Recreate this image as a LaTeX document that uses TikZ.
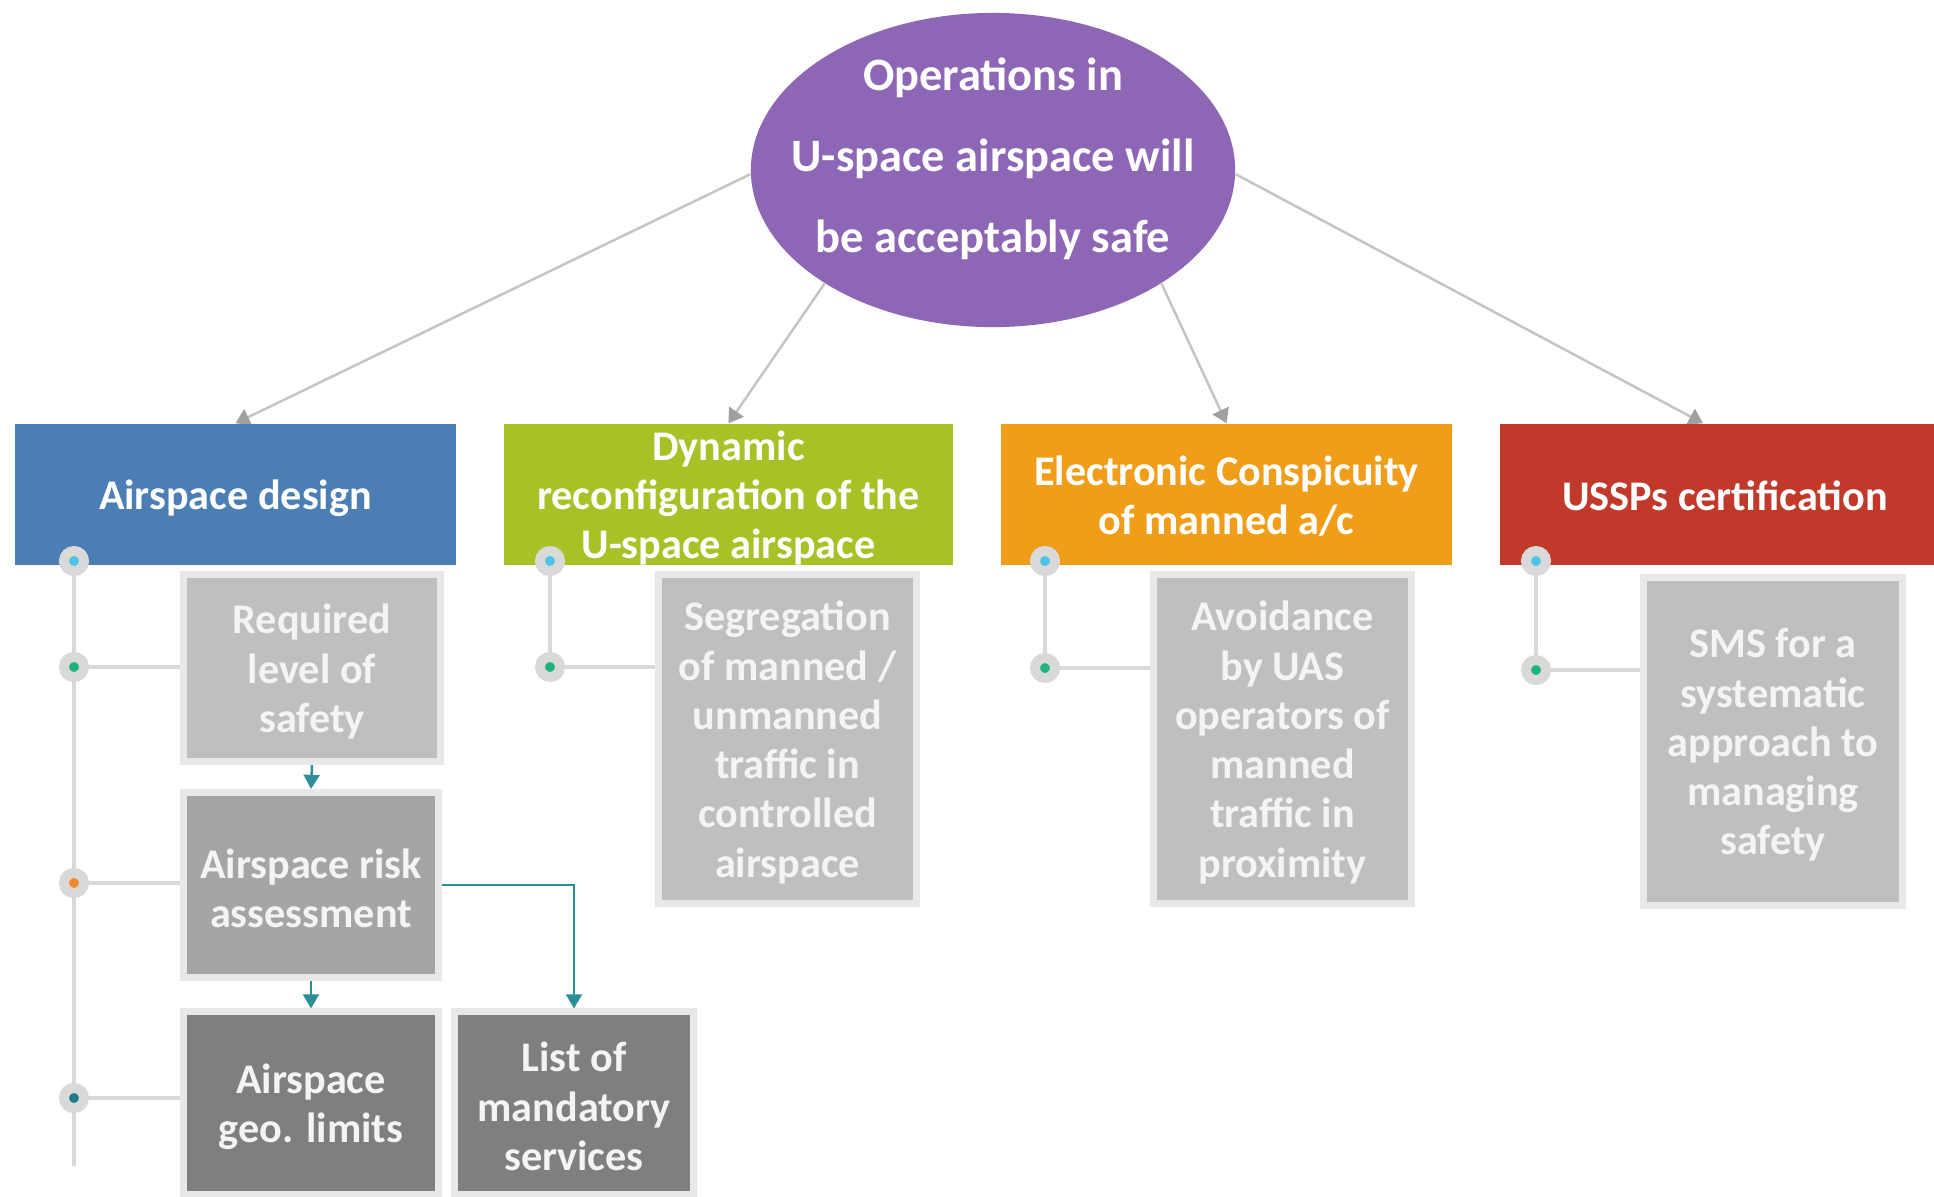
\documentclass[tikz,border=0pt]{standalone}
\usepackage{fontspec}
\setmainfont{Carlito}
\usetikzlibrary{shapes.geometric,arrows.meta,calc}
\definecolor{cblue}{HTML}{4A7EB5}
\definecolor{cgreen}{HTML}{A6C226}
\definecolor{corange}{HTML}{F09E1A}
\definecolor{cred}{HTML}{C0392B}
\definecolor{cpurple}{HTML}{8E66B6}
\definecolor{glight}{HTML}{BFBFBF}
\definecolor{gmid}{HTML}{A5A5A5}
\definecolor{gdark}{HTML}{7F7F7F}
\definecolor{gframe}{HTML}{E8E8E8}
\definecolor{spinec}{HTML}{D9D9D9}
\definecolor{dcyan}{HTML}{4FC3E3}
\definecolor{dgreen}{HTML}{1DB57B}
\definecolor{dorange}{HTML}{F0892A}
\definecolor{dteal}{HTML}{1E7C86}
\definecolor{tealc}{HTML}{2B8E98}
\definecolor{connc}{HTML}{C4C4C4}
\definecolor{tipc}{HTML}{A0A0A0}
\definecolor{txtc}{HTML}{F4F4F4}
\pgfdeclarelayer{background}
\pgfsetlayers{background,main}
\begin{document}
\begin{tikzpicture}[x=0.01cm,y=-0.01cm,
  boxtext/.style={font=\fontsize{12}{14}\selectfont\bfseries, align=center, inner sep=0pt, yshift=-1pt},
  toptxt/.style={boxtext, text=white},
  greytxt/.style={boxtext, text=txtc},
  topbox/.style={fill=#1, draw=none, minimum height=1.41cm, inner sep=0pt},
  greybox/.style={fill=#1, draw=gframe, line width=2pt, inner sep=0pt},
  dot/.style={circle, fill=#1, draw=spinec, line width=0.1cm, minimum size=0.2cm, inner sep=0pt},
  spineline/.style={draw=spinec, line width=1.3pt},
  tealarrow/.style={draw=tealc, line width=0.7pt, -{Triangle[width=4.5pt,length=4pt]}},
  topconn/.style={draw=connc, line width=0.7pt, -{Triangle[width=5pt,length=4pt,color=tipc]}}
]
\useasboundingbox (0,0) rectangle (1934,1196);

% central ellipse
\node[ellipse, fill=cpurple, draw=none, minimum width=4.84cm, minimum height=3.14cm, inner sep=0pt] (ell) at (993,170) {};
\node[text=white, font=\fontsize{13.2}{23}\selectfont\bfseries, align=center, inner sep=0pt] (elltext) at (993,158.5)
  {Operations in\\U-space airspace will\\be acceptably safe};

% top boxes
\node[topbox=cblue, minimum width=4.41cm, label={[toptxt]center:{Airspace design}}] (blue) at (235.5,494.5) {};
\node[topbox=cgreen, minimum width=4.49cm, label={[toptxt]center:{Dynamic\\reconfiguration of the\\U-space airspace}}] (green) at (728.5,494.5) {};
\node[topbox=corange, minimum width=4.51cm, label={[toptxt,yshift=0.6pt]center:{Electronic Conspicuity\\of manned a/c}}] (orange) at (1226.5,494.5) {};
\node[topbox=cred, minimum width=4.50cm, label={[toptxt,yshift=0.6pt]center:{USSPs certification}}] (red) at (1725,494.5) {};
\coordinate (redtop) at ($(red.north)+(-22,0)$);

% grey boxes
\node[greybox=glight, minimum width=2.57cm, minimum height=1.87cm, label={[greytxt]center:{Required\\level of\\safety}}] (req) at (312,668) {};
\node[greybox=gmid, minimum width=2.55cm, minimum height=1.85cm, label={[greytxt]center:{Airspace risk\\assessment}}] (risk) at (311,885) {};
\node[greybox=gdark, minimum width=2.55cm, minimum height=1.82cm, label={[greytxt]center:{Airspace\\geo. limits}}] (geo) at (311,1103) {};
\node[greybox=gdark, minimum width=2.39cm, minimum height=1.82cm, label={[greytxt]center:{List of\\mandatory\\services}}] (list) at (574,1103) {};
\node[greybox=glight, minimum width=2.58cm, minimum height=3.29cm, label={[greytxt]center:{Segregation\\of manned /\\unmanned\\traffic in\\controlled\\airspace}}] (seg) at (787.5,739) {};
\node[greybox=glight, minimum width=2.58cm, minimum height=3.29cm, label={[greytxt]center:{Avoidance\\by UAS\\operators of\\manned\\traffic in\\proximity}}] (avoid) at (1282.5,739) {};
\node[greybox=glight, minimum width=2.59cm, minimum height=3.28cm, label={[greytxt]center:{SMS for a\\systematic\\approach to\\managing\\safety}}] (sms) at (1773,741.5) {};

% dots
\node[dot=dcyan] (b1) at (74,561) {};
\node[dot=dgreen] (b2) at (74,667) {};
\node[dot=dorange] (b3) at (74,883) {};
\node[dot=dteal] (b4) at (74,1098) {};
\coordinate (bend) at (74,1166);
\node[dot=dcyan] (g1) at (550,561) {};
\node[dot=dgreen] (g2) at (550,667) {};
\node[dot=dcyan] (o1) at (1045,561) {};
\node[dot=dgreen] (o2) at (1045,668) {};
\node[dot=dcyan] (r1) at (1536,561) {};
\node[dot=dgreen] (r2) at (1536,670) {};

\begin{pgfonlayer}{background}
  \fill[white] (0,0) rectangle (1934,1196);
  \draw[spineline] (b1.center) -- (bend);
  \draw[spineline] (b2.center) -- (b2 -| req.west);
  \draw[spineline] (b3.center) -- (b3 -| risk.west);
  \draw[spineline] (b4.center) -- (b4 -| geo.west);
  \draw[spineline] (g1.center) -- (g2.center) -- (g2 -| seg.west);
  \draw[spineline] (o1.center) -- (o2.center) -- (o2 -| avoid.west);
  \draw[spineline] (r1.center) -- (r2.center) -- (r2 -| sms.west);
  % ellipse connectors
  \draw[topconn] (ell.181) -- (blue.north);
  \draw[topconn] (ell.214) -- (green.north);
  \draw[topconn] (ell.326) -- (orange.north);
  \draw[topconn] (ell.359) -- (redtop);
\end{pgfonlayer}

% teal arrows
\draw[tealarrow] (req.south) -- (risk.north);
\draw[tealarrow] (risk.south) -- (geo.north);
\draw[tealarrow] (risk.east) -| (list.north);
\end{tikzpicture}
\end{document}
